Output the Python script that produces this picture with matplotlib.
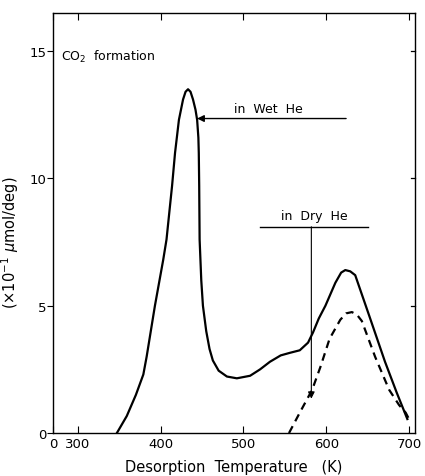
import matplotlib.pyplot as plt

# CO2 formation curves (temperature in K, rate in 1e-1 umol/deg)
wet_T = [347, 359, 370, 379, 383, 393, 403, 407, 410.5, 413.7, 417.3, 422, 427, 430,
         433, 436, 439, 442, 444, 445.5, 446, 446.5, 447, 449, 451, 455, 459, 463,
         470, 480, 492, 508, 520, 532, 545, 556, 568, 578, 584, 591, 599, 611, 618,
         623, 629, 635, 652, 671, 685, 698]
wet_rate = [0.0, 0.67, 1.5, 2.3, 3.0, 5.0, 6.8, 7.6, 8.7, 9.7, 11.0, 12.3, 13.1, 13.4,
            13.5, 13.4, 13.1, 12.7, 12.3, 11.6, 11.0, 9.7, 7.6, 6.0, 5.0, 4.0, 3.3, 2.85,
            2.45, 2.22, 2.15, 2.25, 2.5, 2.8, 3.05, 3.15, 3.25, 3.55, 3.95, 4.5, 5.0, 5.9, 6.3,
            6.4, 6.35, 6.2, 4.6, 2.8, 1.6, 0.55]

dry_T = [555, 568, 583, 593, 604, 617, 624, 631, 637, 643, 659, 676, 688, 696, 700]
dry_rate = [0.0, 0.8, 1.7, 2.6, 3.7, 4.45, 4.7, 4.75, 4.65, 4.4, 3.0, 1.7, 1.1, 0.8, 0.55]

x_ticks = [270, 300, 400, 500, 600, 700]
x_labels = ['0', '300', '400', '500', '600', '700']
y_ticks = [0, 5, 10, 15]
y_labels = ['0', '5', '10', '15']

plt.rcParams['font.family'] = 'DejaVu Sans'
fig = plt.figure(figsize=(4.25, 4.77), dpi=100)
ax = fig.add_axes([0.125, 0.090, 0.851, 0.881])

ax.plot(wet_T, wet_rate, color='black', lw=1.6, solid_joinstyle='round')
ax.plot(dry_T, dry_rate, color='black', lw=1.6, ls=(0, (3.5, 2.5)))

ax.set_xlim(270, 707)
ax.set_ylim(0, 16.5)
ax.set_xticks(x_ticks)
ax.set_xticklabels(x_labels)
ax.set_yticks(y_ticks)
ax.set_yticklabels(y_labels)
ax.tick_params(axis='x', direction='in', top=True, length=5, labelsize=9.5, pad=3)
ax.tick_params(axis='y', direction='out', length=4, labelsize=9.5, pad=1)
ax.tick_params(axis='y', which='both', right=False)
for y in [5, 10, 15]:
    ax.plot([707, 703], [y, y], color='black', lw=0.9, clip_on=False)
for s in ax.spines.values():
    s.set_linewidth(1.0)

ax.set_xlabel('Desorption  Temperature   (K)', fontsize=10.5, labelpad=6)
ax.set_ylabel(r'$(\times 10^{-1}\ \mu$mol/deg$)$', fontsize=10.5)
ax.yaxis.set_label_coords(-0.09, 0.455)

ax.text(280, 14.8, r'CO$_2$  formation', fontsize=9, va='center')

# wet He arrow
ax.annotate('', xy=(444, 12.35), xytext=(624, 12.35),
            arrowprops=dict(arrowstyle='-|>', color='black', lw=1.0,
                            mutation_scale=10, shrinkA=0, shrinkB=0))
ax.text(530, 12.5, 'in  Wet  He', fontsize=9, ha='center', va='bottom')

# dry He arrow
ax.plot([520, 650], [8.1, 8.1], color='black', lw=1.0)
ax.annotate('', xy=(582, 1.35), xytext=(582, 8.1),
            arrowprops=dict(arrowstyle='-|>', color='black', lw=0.8,
                            mutation_scale=10, shrinkA=0, shrinkB=0))
ax.text(585, 8.3, 'in  Dry  He', fontsize=9, ha='center', va='bottom')

fig.savefig('out.png', dpi=100)
